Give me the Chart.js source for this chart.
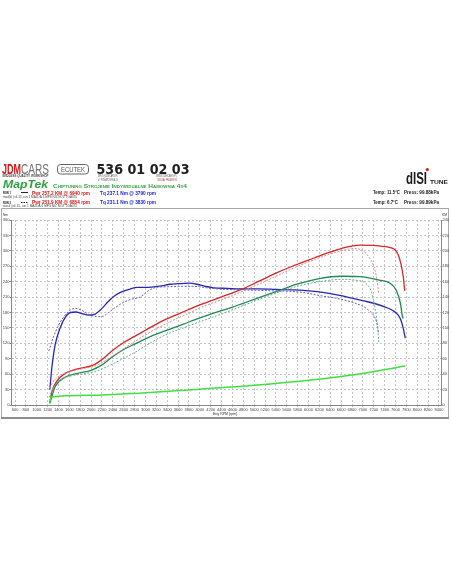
<!DOCTYPE html>
<html><head><meta charset="utf-8">
<script src="https://cdn.jsdelivr.net/npm/chart.js@4/dist/chart.umd.min.js"></script>
<style>
html,body{margin:0;padding:0;background:#fff;width:452px;height:584px;overflow:hidden}
#c{position:absolute;left:0;top:0}
</style></head><body>
<canvas id="c" width="452" height="584"></canvas>
<script>
// ---------- tick labels ----------
const rpmTicks = [600,800,1000,1200,1400,1600,1800,2000,2200,2400,2600,2800,3000,3200,3400,3600,3800,4000,4200,4400,4600,4800,5000,5200,5400,5600,5800,6000,6200,6400,6600,6800,7000,7200,7400,7600,7800,8000,8200,8400];
const nmTicks = [0,30,60,90,120,150,180,210,240,270,300,330,360];
const kmTicks = [0,20,40,60,80,100,120,140,160,180,200,220,240];

// ---------- RUN 1 (solid) ----------
const trq1Rpm = [1240,1280,1340,1430,1520,1620,1720,1830,1950,2050,2200,2320,2440,2560,2700,2850,3000,3150,3300,3450,3600,3790,3950,4100,4250,4500,4800,5100,5400,5700,5900,6200,6500,6800,7000,7200,7400,7550,7650,7700,7740,7780];
const trq1    = [30,75,118,150,170,180,181,178,175,176,188,202,213,220,225,229,229,230,232,235,236,237,235,231,228,227,226,226,225,224,223,220,215,208,203,198,191,184,175,165,150,130];

const pwr1Rpm = [1240,1280,1370,1520,1700,1900,2050,2200,2400,2600,2800,3000,3200,3400,3600,3800,4000,4200,4500,4800,5100,5400,5700,6000,6300,6600,6940,7200,7450,7580,7650,7700,7740,7770];
const pwr1    = [3,18,31,41,46,49,52,59,71,81,89,97,105,112,118,124,130,135,143,151,161,171,180,188,196,203,207.5,207,205,202,195,183,168,148];

const whl1Rpm = [1240,1340,1520,1750,2000,2200,2400,2600,2800,3100,3400,3700,4000,4200,4600,5000,5400,5800,6200,6600,6940,7300,7500,7620,7690,7720,7740];
const whl1    = [2,24,36,41,45,52,63,72,79,89,97,105,113,118,127,137,147,157,164,167,166.5,162,158,148,132,118,112];

const lossRpm = [1240,1260,2000,3000,4000,5000,6000,7000,7500,7780];
const loss    = [3,10,12.5,16,20.5,25.5,32,41,47,51];

// ---------- RUN 2 (dashed) ----------
const trq2Rpm = [1220,1300,1400,1500,1620,1720,1830,1950,2100,2200,2320,2450,2600,2750,2900,3050,3200,3400,3600,3830,4000,4200,4500,4800,5100,5400,5700,5900,6200,6500,6800,7000,7100,7200,7250,7290];
const trq2    = [105,130,155,172,185,188,184,177,172,172,180,190,200,206,210,222,229,230,231,231,230,227,225,224,223,222,221,219,213,208,200,192,185,174,162,140];

const pwr2Rpm = [1230,1300,1400,1550,1700,1900,2050,2200,2400,2600,2800,3000,3200,3400,3600,3800,4000,4300,4600,5000,5400,5800,6200,6500,6854,7000,7100,7200,7260,7290];
const pwr2    = [22,30,37,42,45,48,50,55,64,73,82,91,99,106,113,119,126,134,142,154,167,180,191,198,203,200,193,180,162,145];

const whl2Rpm = [1230,1300,1450,1650,1900,2100,2300,2500,2800,3100,3400,3700,4000,4400,4800,5200,5600,5900,6200,6600,6854,7050,7150,7230,7270,7290];
const whl2    = [10,22,33,38,41,44,50,57,68,81,92,100,108,118,129,140,150,156,160,163,162,158,148,123,102,82];

function pts(xs, ys){ return xs.map((x,i)=>({x:x, y:ys[i]})); }
function ds(xs, ys, color, axis, width, dash){
  return {data: pts(xs,ys), borderColor: color, borderWidth: width, borderDash: dash||[],
    yAxisID: axis, pointRadius: 0, fill: false, cubicInterpolationMode: 'monotone'};
}

function txt(ctx, s, x, y, font, color, w){
  ctx.save(); ctx.font = font; ctx.fillStyle = color; ctx.textBaseline = 'alphabetic'; ctx.textAlign='left';
  const m = ctx.measureText(s).width;
  const sx = w ? w/m : 1;
  ctx.translate(x, y); ctx.scale(sx, 1); ctx.fillText(s, 0, 0); ctx.restore();
}

const decor = {
  id: 'decor',
  beforeDraw(chart){
    const ctx = chart.ctx;
    ctx.save();
    ctx.fillStyle = '#fff'; ctx.fillRect(0,0,452,584);
    // frame
    ctx.strokeStyle = '#a8a8a8'; ctx.lineWidth = 1;
    ctx.strokeRect(1.5, 208.5, 447, 209);
    ctx.fillStyle = '#8c8c8c'; ctx.fillRect(1, 417, 448, 2);
    ctx.restore();
  },
  afterDraw(chart){
    const ctx = chart.ctx;
    const F = 'Liberation Sans, Arial, sans-serif';
    // axis unit labels
    txt(ctx, 'Nm', 3, 216, '4px '+F, '#333', 5);
    txt(ctx, 'KM', 442, 216, '4px '+F, '#333', 5);
    txt(ctx, 'Eng RPM [rpm]', 213, 414.5, '3.5px '+F, '#333', 24);
    // logo JDMCARS
    txt(ctx, 'JDM', 2, 174, 'bold 14.5px '+F, '#d01818', 19);
    txt(ctx, 'CARS', 21, 174, '14.5px '+F, '#707070', 28);
    txt(ctx, 'ENDLESS QUALITY WORKSHOP', 2.5, 177, 'bold 3px '+F, '#444', 46);
    // ecutek box
    ctx.save(); ctx.strokeStyle = '#666'; ctx.lineWidth = 1;
    ctx.beginPath(); ctx.roundRect(57.5, 164.5, 31, 9.5, 3); ctx.stroke(); ctx.restore();
    txt(ctx, 'ECUTEK', 61, 172, '7px '+F, '#555', 24);
    // phone
    txt(ctx, '536 01 02 03', 96.5, 174, 'bold 14px DejaVu Sans, sans-serif', '#1e1e1e', 93);
    txt(ctx, 'INFO@JDMCARS.PL', 98, 176.5, '3px '+F, '#555', 20);
    txt(ctx, 'WWW.JDMCARS.PL', 156, 176.5, '3px '+F, '#555', 21);
    txt(ctx, 'ul. PONIATOWSKA 15', 98, 180.5, '3px '+F, '#555', 20);
    txt(ctx, 'ODDZIAŁ PRZASNYSZ', 157, 180.5, '3px '+F, '#a03030', 20);
    // MapTek
    txt(ctx, 'MapTek', 3, 187.5, 'italic bold 10px '+F, '#2aa040', 45);
    txt(ctx, 'Chiptuning Strojenie Indywidualne Hamownia 4x4', 53, 187.5, 'small-caps bold 6px '+F, '#3aa04c', 134);
    // run rows
    txt(ctx, 'RUN 1', 3, 194, 'bold 4px '+F, '#111', 8);
    ctx.save(); ctx.strokeStyle = '#222'; ctx.lineWidth = 1;
    ctx.beginPath(); ctx.moveTo(21, 192.5); ctx.lineTo(28, 192.5); ctx.stroke();
    ctx.setLineDash([1.5,1]); ctx.beginPath(); ctx.moveTo(21, 202.5); ctx.lineTo(28, 202.5); ctx.stroke();
    ctx.restore();
    txt(ctx, 'Pwr 257.2 KM @ 6940 rpm', 32, 194.5, 'bold 5px '+F, '#e01010', 58);
    txt(ctx, 'Tq 237.1 Nm @ 3790 rpm', 100, 194.5, 'bold 5px '+F, '#1a1ad0', 56);
    txt(ctx, 'mod50 (v4.15, run 1 MAZDA 6 MPS NIZ NOZ TGA070', 3, 197.5, '3px '+F, '#444', 74);
    txt(ctx, 'RUN 2', 3, 204, 'bold 4px '+F, '#111', 8);
    txt(ctx, 'Pwr 251.9 KM @ 6854 rpm', 32, 204, 'bold 5px '+F, '#e01010', 58);
    txt(ctx, 'Tq 231.1 Nm @ 3830 rpm', 100, 204, 'bold 5px '+F, '#1a1ad0', 56);
    txt(ctx, 'stock (v4.15, run 1 MAZDA 6 MPS NIZ NOZ TGA070', 3, 207.3, '3px '+F, '#444', 74);
    // disi tune
    txt(ctx, 'dISI', 406, 184, 'bold 16px Liberation Sans Narrow, '+F, '#1a1a1a', 21);
    ctx.save(); ctx.fillStyle = '#e01818'; ctx.beginPath(); ctx.arc(427.3, 169.6, 1.6, 0, Math.PI*2); ctx.fill(); ctx.restore();
    txt(ctx, 'TUNE', 430, 184, 'bold 6px '+F, '#222', 18);
    txt(ctx, 'Temp: 11.5°C', 373, 194.3, 'bold 4.5px '+F, '#222', 27);
    txt(ctx, 'Press: 99.88kPa', 404, 194.3, 'bold 4.5px '+F, '#222', 35);
    txt(ctx, 'Temp: 6.7°C', 373, 203.5, 'bold 4.5px '+F, '#222', 25);
    txt(ctx, 'Press: 99.89kPa', 404, 203.5, 'bold 4.5px '+F, '#222', 35);
  }
};

const tickFont = {size: 4, family: 'Liberation Sans, Arial, sans-serif'};
new Chart(document.getElementById('c'), {
  type: 'line',
  data: {datasets: [
    ds(lossRpm, loss, '#3fe03f', 'yR', 1.5),
    ds(whl2Rpm, whl2, '#6cae90', 'yR', 1, [2,1.5]),
    ds(pwr2Rpm, pwr2, '#e08a8a', 'yR', 1, [2,1.5]),
    ds(trq2Rpm, trq2, '#6a5cc0', 'yL', 1, [2,1.5]),
    ds(whl1Rpm, whl1, '#208a55', 'yR', 1.3),
    ds(pwr1Rpm, pwr1, '#d42626', 'yR', 1.3),
    ds(trq1Rpm, trq1, '#2626b4', 'yL', 1.3)
  ]},
  options: {
    responsive: false, devicePixelRatio: 1, animation: false,
    layout: {padding: {top: 220, bottom: 165, left: 0, right: 0}},
    plugins: {legend: {display: false}, tooltip: {enabled: false}},
    elements: {line: {tension: 0.4}},
    scales: {
      x: {type: 'linear', min: 526, max: 8437,
        afterBuildTicks: s => { s.ticks = rpmTicks.map(v => ({value: v})); },
        afterFit: s => { s.height = 14; },
        ticks: {autoSkip: false, maxRotation: 0, minRotation: 0, font: tickFont, color: '#444', padding: 0.5, callback: v => String(v)},
        grid: {color: '#c4c4c4', tickColor: '#888', tickLength: 1.5},
        border: {color: '#888', width: 1, dash: [2,2]}
      },
      yL: {type: 'linear', position: 'left', min: 0, max: 360,
        afterBuildTicks: s => { s.ticks = nmTicks.map(v => ({value: v})); },
        afterFit: s => { s.width = 11; },
        ticks: {font: tickFont, color: '#444', padding: 0, callback: v => String(v)},
        grid: {color: '#c4c4c4', tickColor: '#888', tickLength: 1.5},
        border: {color: '#888', width: 1, dash: [2,2]}
      },
      yR: {type: 'linear', position: 'right', min: 0, max: 240,
        afterBuildTicks: s => { s.ticks = kmTicks.map(v => ({value: v})); },
        afterFit: s => { s.width = 11; },
        ticks: {font: tickFont, color: '#444', padding: 0, callback: v => String(v)},
        grid: {drawOnChartArea: false, tickColor: '#888', tickLength: 1.5},
        border: {color: '#888', width: 1}
      }
    }
  },
  plugins: [decor]
});
</script>
</body></html>
